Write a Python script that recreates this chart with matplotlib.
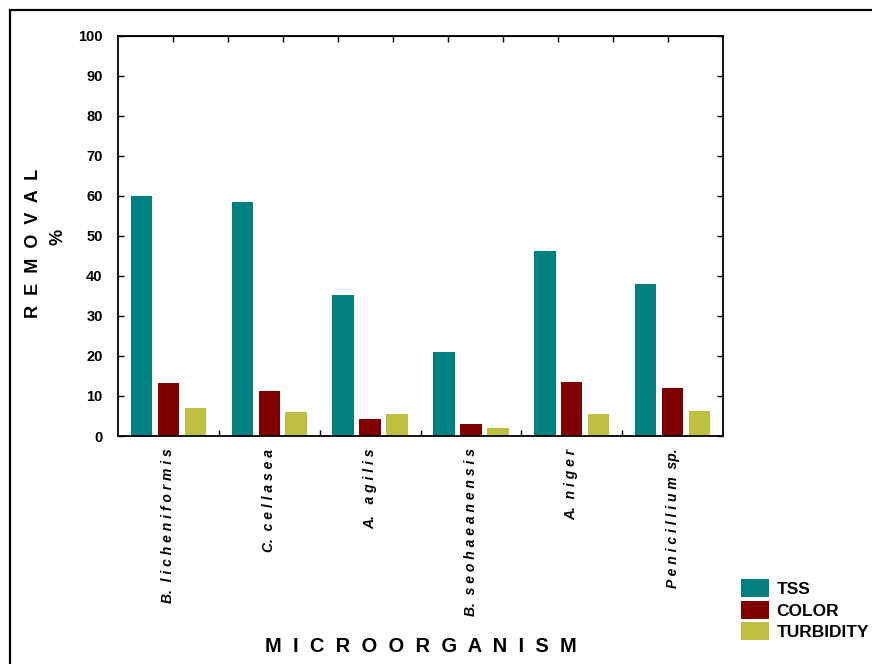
import numpy as np
import matplotlib
matplotlib.use("Agg")
import matplotlib.pyplot as plt
from matplotlib.patches import Rectangle

plt.rcParams.update({
    "font.family": ["Liberation Sans", "DejaVu Sans"],
    "font.weight": "bold",
})

# data
organisms = ["B.  l i c h e n i f o r m i s", "C.  c e l l a s e a", "A.   a g i l i s",
             "B.  s e o h a e a n e n s i s", "A.  n i g e r", "P e n i c i l l i u m  sp."]
tss = [60.0, 58.5, 35.3, 21.0, 46.2, 38.0]
color = [13.2, 11.2, 4.2, 3.0, 13.5, 12.0]
turbidity = [7.0, 6.0, 5.5, 2.0, 5.5, 6.2]
series = [("TSS", tss, "#008080"), ("COLOR", color, "#800000"), ("TURBIDITY", turbidity, "#C0C040")]

fig = plt.figure(figsize=(8.72, 6.64), dpi=100)
# outer frame (only left/top visible in the cropped original)
fig.patches.append(Rectangle((10 / 872, -0.1), 1.2, 1 - 10 / 664 + 0.1, transform=fig.transFigure,
                             fill=False, lw=1.6, ec="black"))

ax = fig.add_axes([118 / 872, 1 - 436 / 664, 605 / 872, 400 / 664])
x = np.arange(len(organisms))
w = 0.213; step = 0.267
for j, (name, vals, col) in enumerate(series):
    ax.bar(x + (j - 1) * step, vals, w, color=col, label=name)

ax.set_xlim(-0.5, len(organisms) - 0.5)
ax.set_ylim(0, 100)
ax.set_yticks(np.arange(0, 101, 10))
ax.tick_params(axis="y", direction="in", length=4, width=1, right=True, labelsize=10.5, pad=11)
for t in ax.get_yticklabels():
    t.set_fontweight("bold")

# group boundary ticks at the bottom, labels at group centres
ax.set_xticks(np.arange(len(organisms) - 1) + 0.5)
ax.set_xticklabels([])
ax.tick_params(axis="x", direction="in", length=4, width=1)
ax.set_xticks(x, minor=True)
ax.set_xticklabels(organisms, minor=True, rotation=90, fontsize=10, fontstyle="italic",
                   fontweight="bold", va="top")
ax.tick_params(axis="x", which="minor", length=0, pad=9)

# top ticks (11 equal divisions)
sec = ax.secondary_xaxis("top")
sec.set_xticks(np.linspace(-0.5, len(organisms) - 0.5, 12)[1:-1])
sec.set_xticklabels([])
sec.tick_params(direction="in", length=4, width=1)

for s in ax.spines.values():
    s.set_linewidth(1.3)

fig.text(33 / 872, 1 - 243 / 664, "R  E  M  O  V  A  L", rotation=90, ha="center", va="center",
         fontsize=13, fontweight="bold")
fig.text(58 / 872, 1 - 237 / 664, "%", rotation=90, ha="center", va="center",
         fontsize=13, fontweight="bold")
fig.text(421 / 872, 1 - 647 / 664, "M  I  C  R  O  O  R  G  A  N  I  S  M", ha="center", va="center",
         fontsize=14.5, fontweight="bold")

handles, labels = ax.get_legend_handles_labels()
fig.legend(handles, labels, loc="upper left", bbox_to_anchor=(729 / 872, 1 - 567 / 664),
           frameon=False, handlelength=1.6, handleheight=1.2, labelspacing=0.22,
           handletextpad=0.45, borderpad=0.2, prop={"weight": "bold", "size": 12.5})

fig.savefig("out.png", dpi=100)
